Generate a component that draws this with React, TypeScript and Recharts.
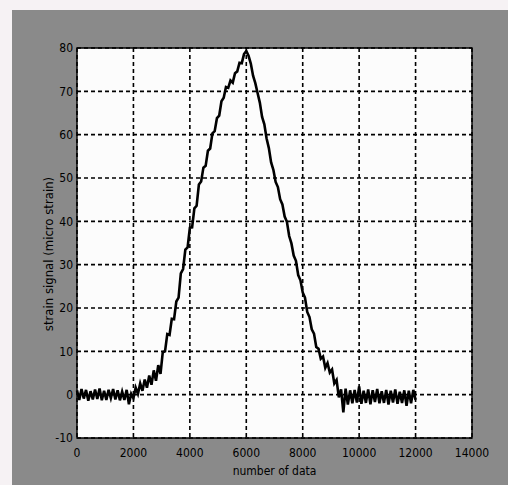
import { LineChart, Line, XAxis, YAxis, CartesianGrid, ReferenceArea, Label } from 'recharts';

// one reading every 80 samples
const SAMPLE_STEP = 80;

const strainValues = [
  1.0, -1.2, 1.3, -0.9, 1.1, -1.4, 0.8, -1.1, 1.2, -1.0, 1.4, -1.3, 0.9, -1.2, 1.1, -0.8, 1.3, -1.1, 1.0, -1.3, 0.7, -1.2, 1.1,
  -2.2, 0.2, -0.8, 1.6, 0.2, 2.6, 0.9, 3.5, 1.6, 4.4, 2.3, 5.6, 3.2, 6.8, 4.8,
  9.8, 10, 14, 13.8, 17.5, 17.4, 21.5, 22.4, 28, 29, 33.5, 34,
  38.5, 38.6, 43, 43.6, 48.5, 49.2, 52.4, 52.8, 56.3, 56.8, 60.3, 60.8,
  63.8, 64.4, 67.7, 68.5, 71, 70.8, 72.5, 72, 74.2, 74.6, 76.6, 76.5, 78.6, 79.3,
  78.2, 76.4, 73.6, 71.9, 69.6, 67.4, 64.1, 62.4, 59.1, 56.9, 53.6, 51.9, 49.1, 47.9,
  45.1, 43.9, 41.1, 39.9, 36.6, 34.9, 32.1, 30.9, 27.6, 26.4, 23.6, 22.4, 19.1, 17.9, 15.1, 14.1,
  11, 10.6, 8.3, 8.8, 6.2, 7.3, 5.1, 5.8, 2.6, 3.4, -0.6, 1.2, -4.1, 1.4,
  -2.3, 1.0, -2.0, 1.1, -1.8, 1.9, -2.1, 0.9, -1.9, 1.2, -2.2, 1.0, -1.7, 1.3, -2.0, 0.8,
  -1.9, 1.1, -2.3, 0.9, -1.8, 1.2, -2.1, 0.7, -1.9, 1.0, -2.6, 0.9, -2.0, 1.1, -1.2,
];

const xTicks = [0, 2000, 4000, 6000, 8000, 10000, 12000, 14000];
const yTicks = [-10, 0, 10, 20, 30, 40, 50, 60, 70, 80];

const X_LABEL = 'number of data';
const Y_LABEL = 'strain signal (micro strain)';

const data = strainValues.map((v, i) => ({ sample: i * SAMPLE_STEP, strain: v }));

const FONT = '"DejaVu Sans Condensed", "DejaVu Sans", sans-serif';

const YLabel = (props: any) => {
  const vb = props.viewBox;
  const cx = vb.x + 48;
  const cy = vb.y + vb.height / 2 + 11;
  return (
    <text
      x={cx}
      y={cy}
      transform={`rotate(-90, ${cx}, ${cy})`}
      textAnchor="middle"
      dominantBaseline="central"
      fontFamily={FONT}
      fontSize={13}
      fill="#000"
    >
      {Y_LABEL}
    </text>
  );
};

export default function App() {
  return (
    <div style={{ position: 'absolute', left: 0, top: 0, width: 508, height: 485, background: '#f6f2f4' }}>
      <div style={{ position: 'absolute', left: 12, top: 10, width: 496, height: 475, background: '#8a8a8a' }} />
      <div style={{ position: 'absolute', left: 0, top: 0 }}>
        <LineChart width={508} height={485} data={data} margin={{ top: 48, right: 36, left: 0, bottom: 0 }}>
          <CartesianGrid fill="#fcfcfc" stroke="#000" strokeDasharray="4 3" strokeWidth={1.6} />
          <XAxis
            dataKey="sample"
            type="number"
            domain={[0, 14000]}
            ticks={xTicks}
            height={47}
            axisLine={false}
            tickLine={false}
            tickMargin={4}
            tick={{ fontFamily: FONT, fontSize: 12, fill: '#000' }}
          >
            <Label value={X_LABEL} position="insideBottom" offset={10} style={{ fontFamily: FONT, fontSize: 12, fill: '#000' }} />
          </XAxis>
          <YAxis
            type="number"
            domain={[-10, 80]}
            ticks={yTicks}
            width={77}
            axisLine={false}
            tickLine={false}
            tickSize={2}
            tickMargin={2}
            tick={{ fontFamily: FONT, fontSize: 12, fill: '#000' }}
            label={<YLabel />}
          />
          <ReferenceArea x1={0} x2={14000} y1={-10} y2={80} fill="none" stroke="#000" strokeWidth={1.4} ifOverflow="visible" />
          <Line
            dataKey="strain"
            type="linear"
            stroke="#000"
            strokeWidth={2.6}
            dot={false}
            isAnimationActive={false}
          />
        </LineChart>
      </div>
    </div>
  );
}
